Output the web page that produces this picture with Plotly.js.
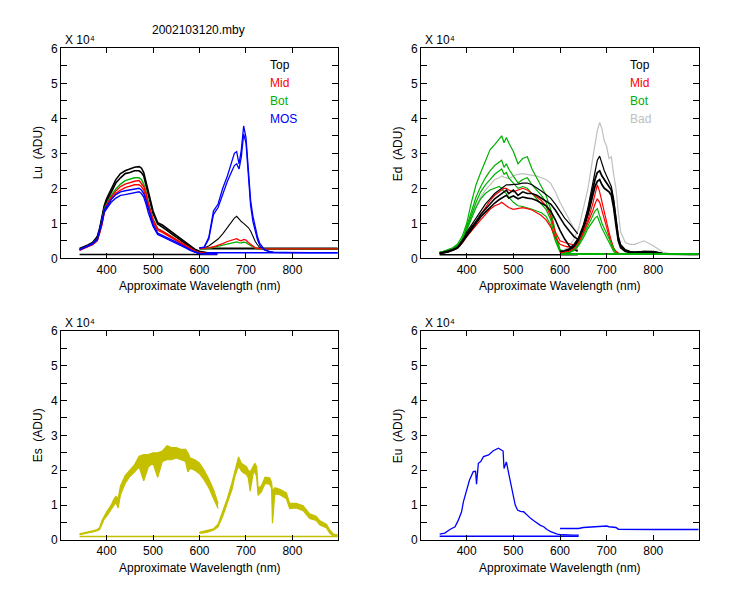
<!DOCTYPE html>
<html>
<head>
<meta charset="utf-8">
<script src="https://cdn.plot.ly/plotly-3.0.1.min.js"></script>
<style>html,body{margin:0;padding:0;background:#fff}#plot{width:750px;height:600px}</style>
</head>
<body>
<div id="plot"></div>
<script>
// ---------- wavelength grids (nm) ----------
const WL_A = [342,350,360,370,380,385,390,395,400,410,420,430,440,450,460,470,475,480,485,490,500,510,520,530,540,550,560,570,580,590,600,610,620,630,638];
const WL_B = [600,610,620,630,640,650,660,670,675,680,685,690,695,700,705,710,715,720,725,730,740,750,760,780,800,820,840,860,880,897];

// ---------- Lu (x10^4 ADU) ----------
const LU_TOP1_A = [0.28,0.32,0.38,0.45,0.62,0.85,1.15,1.5,1.7,2.0,2.25,2.42,2.5,2.55,2.6,2.62,2.58,2.45,2.2,1.9,1.35,1.02,0.95,0.85,0.75,0.64,0.54,0.44,0.35,0.26,0.2,0.17,0.15,0.14,0.14];
const LU_TOP2_A = [0.26,0.3,0.36,0.44,0.58,0.8,1.1,1.45,1.62,1.9,2.15,2.3,2.42,2.45,2.5,2.5,2.45,2.35,2.1,1.8,1.28,0.98,0.9,0.8,0.7,0.6,0.5,0.41,0.32,0.24,0.18,0.16,0.14,0.13,0.13];
const LU_BOT_A  = [0.25,0.29,0.34,0.42,0.55,0.75,1.05,1.4,1.55,1.8,1.98,2.12,2.22,2.25,2.3,2.3,2.25,2.12,1.9,1.6,1.12,0.85,0.78,0.7,0.62,0.53,0.44,0.36,0.28,0.2,0.15,0.13,0.12,0.12,0.12];
const LU_MID1_A = [0.24,0.28,0.33,0.4,0.52,0.72,1.0,1.35,1.52,1.75,1.92,2.05,2.12,2.17,2.2,2.22,2.15,2.05,1.85,1.55,1.1,0.84,0.78,0.7,0.62,0.54,0.45,0.37,0.29,0.21,0.16,0.14,0.13,0.12,0.12];
const LU_MID2_A = [0.23,0.27,0.32,0.39,0.5,0.7,0.95,1.3,1.45,1.7,1.85,1.95,2.02,2.05,2.1,2.1,2.05,1.95,1.75,1.5,1.05,0.8,0.74,0.66,0.58,0.5,0.42,0.34,0.26,0.19,0.15,0.13,0.12,0.12,0.12];
const LU_MOS1_A = [0.25,0.3,0.35,0.42,0.55,0.78,1.05,1.38,1.48,1.68,1.82,1.9,1.93,1.95,1.98,2.0,1.95,1.85,1.65,1.4,0.98,0.72,0.66,0.6,0.53,0.46,0.39,0.32,0.25,0.18,0.14,0.13,0.12,0.12,0.12];
const LU_MOS2_A = [0.24,0.29,0.34,0.41,0.53,0.75,1.0,1.32,1.42,1.6,1.72,1.8,1.82,1.85,1.88,1.9,1.85,1.75,1.55,1.3,0.92,0.68,0.62,0.56,0.5,0.43,0.36,0.3,0.23,0.17,0.13,0.12,0.12,0.12,0.12];
const LU_MOS1_B = [0.3,0.32,0.6,1.35,1.55,2.0,2.35,2.75,3.0,3.05,2.7,3.1,3.78,3.45,2.5,1.65,1.2,0.9,0.6,0.42,0.25,0.2,0.17,0.17,0.16,0.16,0.16,0.16,0.16,0.16];
const LU_MOS2_B = [0.3,0.31,0.55,1.25,1.45,1.85,2.2,2.5,2.65,2.7,2.55,2.9,3.55,3.3,2.35,1.5,1.05,0.8,0.52,0.36,0.23,0.19,0.17,0.16,0.16,0.16,0.16,0.16,0.16,0.16];
const LU_TOP_B  = [0.3,0.3,0.35,0.45,0.55,0.7,0.88,1.05,1.15,1.2,1.12,1.05,1.0,0.95,0.88,0.78,0.62,0.48,0.38,0.3,0.27,0.27,0.27,0.27,0.27,0.27,0.27,0.27,0.27,0.27];
const LU_MID_B  = [0.28,0.28,0.3,0.33,0.37,0.42,0.48,0.53,0.55,0.56,0.52,0.5,0.54,0.52,0.45,0.4,0.35,0.3,0.28,0.27,0.27,0.27,0.27,0.27,0.27,0.27,0.27,0.27,0.27,0.27];
const LU_BOT_B  = [0.27,0.27,0.28,0.31,0.34,0.38,0.42,0.45,0.46,0.47,0.45,0.44,0.46,0.45,0.4,0.36,0.32,0.29,0.27,0.27,0.27,0.27,0.27,0.27,0.27,0.27,0.27,0.27,0.27,0.27];
const LU_BASE_A_X = [342,638], LU_BASE_A_Y = [0.11,0.11];
const LU_BASE_B_X = [600,897], LU_BASE_B_Y = [0.28,0.28];
const LU_MOSBASE_X = [615,897], LU_MOSBASE_Y = [0.16,0.16];

// ---------- Ed ----------
const ED_BOT1_A = [0.18,0.2,0.25,0.3,0.4,0.5,0.62,0.8,1.0,1.6,2.1,2.45,2.75,3.1,3.25,3.4,3.5,3.3,3.45,3.3,3.05,2.7,2.85,2.9,2.55,2.3,2.05,1.8,1.4,0.75,0.25,0.15,0.12,0.12,0.12];
const ED_BOT2_A = [0.17,0.19,0.23,0.28,0.37,0.45,0.55,0.7,0.9,1.35,1.75,2.05,2.3,2.5,2.65,2.75,2.8,2.6,2.7,2.55,2.35,2.15,2.25,2.3,2.1,1.95,1.8,1.6,1.25,0.65,0.22,0.14,0.12,0.12,0.12];
const ED_BOT3_A = [0.16,0.18,0.22,0.27,0.35,0.42,0.52,0.65,0.85,1.25,1.6,1.9,2.1,2.25,2.4,2.5,2.55,2.4,2.45,2.3,2.15,2.0,2.05,2.0,1.85,1.7,1.55,1.4,1.1,0.55,0.2,0.13,0.12,0.12,0.12];
const ED_BOT4_A = [0.16,0.18,0.21,0.26,0.33,0.4,0.5,0.62,0.8,1.15,1.45,1.7,1.85,1.95,2.0,2.05,2.0,1.9,1.85,1.75,1.6,1.5,1.48,1.45,1.4,1.35,1.3,1.2,0.95,0.5,0.18,0.13,0.12,0.12,0.12];
const ED_BAD_A  = [0.17,0.19,0.22,0.27,0.34,0.42,0.52,0.68,0.85,1.2,1.5,1.75,1.95,2.1,2.25,2.3,2.35,2.32,2.3,2.28,2.35,2.4,2.42,2.4,2.38,2.35,2.3,2.25,2.14,1.9,1.6,1.35,1.1,0.85,0.7];
const ED_TOP1_A = [0.14,0.17,0.2,0.25,0.32,0.4,0.5,0.6,0.75,0.95,1.15,1.35,1.55,1.7,1.85,1.95,2.0,2.05,2.1,2.1,2.1,2.12,2.15,2.15,2.1,2.02,1.92,1.82,1.72,1.55,1.35,1.15,1.0,0.82,0.7];
const ED_TOP2_A = [0.14,0.16,0.19,0.24,0.3,0.38,0.48,0.58,0.7,0.88,1.05,1.25,1.4,1.55,1.7,1.8,1.85,1.9,1.95,1.85,1.95,1.8,1.9,1.85,1.85,1.8,1.72,1.65,1.55,1.38,1.15,0.95,0.78,0.62,0.55];
const ED_TOP3_A = [0.13,0.15,0.18,0.23,0.29,0.36,0.45,0.55,0.65,0.82,1.0,1.18,1.32,1.45,1.58,1.68,1.72,1.75,1.8,1.72,1.78,1.7,1.75,1.72,1.7,1.65,1.58,1.5,1.35,1.1,0.8,0.55,0.35,0.25,0.2];
const ED_MID1_A = [0.15,0.17,0.2,0.25,0.31,0.38,0.48,0.58,0.7,0.88,1.05,1.25,1.45,1.65,1.8,1.9,1.95,2.0,2.0,1.95,1.9,1.95,2.0,1.95,1.85,1.75,1.65,1.5,1.2,0.75,0.5,0.45,0.42,0.38,0.3];
const ED_MID2_A = [0.14,0.16,0.19,0.23,0.29,0.35,0.43,0.52,0.62,0.78,0.95,1.1,1.25,1.4,1.5,1.55,1.6,1.55,1.5,1.45,1.4,1.42,1.45,1.42,1.38,1.3,1.22,1.1,0.9,0.6,0.4,0.35,0.32,0.3,0.25];
const ED_BAD_B  = [0.2,0.25,0.35,0.55,0.85,1.4,2.0,2.85,3.3,3.65,3.88,3.7,3.35,3.2,2.85,2.9,2.4,2.0,1.3,0.75,0.45,0.4,0.4,0.5,0.36,0.18,0.12,0.1,0.1,0.1];
const ED_TOP1_B = [0.2,0.22,0.28,0.4,0.6,0.95,1.45,2.1,2.5,2.8,2.92,2.7,2.5,2.35,2.2,2.05,1.7,1.15,0.65,0.4,0.25,0.2,0.18,0.2,0.2,0.14,0.12,0.12,0.12,0.12];
const ED_TOP2_B = [0.18,0.2,0.25,0.35,0.55,0.88,1.35,1.95,2.25,2.45,2.5,2.35,2.25,2.15,2.05,1.95,1.6,1.05,0.55,0.35,0.22,0.18,0.17,0.19,0.18,0.13,0.12,0.12,0.12,0.12];
const ED_TOP3_B = [0.17,0.19,0.24,0.33,0.5,0.82,1.25,1.8,2.05,2.2,2.25,2.1,2.0,1.95,1.9,1.8,1.45,0.95,0.5,0.3,0.2,0.17,0.16,0.18,0.17,0.12,0.11,0.11,0.11,0.11];
const ED_MID1_B = [0.15,0.17,0.2,0.28,0.45,0.75,1.1,1.55,1.85,2.1,1.9,1.6,1.3,1.0,0.75,0.5,0.3,0.2,0.15,0.13,0.12,0.12,0.12,0.12,0.12,0.12,0.12,0.12,0.12,0.12];
const ED_MID2_B = [0.14,0.16,0.19,0.26,0.42,0.7,1.0,1.35,1.55,1.7,1.6,1.35,1.1,0.85,0.6,0.4,0.25,0.17,0.13,0.12,0.12,0.12,0.12,0.12,0.12,0.12,0.12,0.12,0.12,0.12];
const ED_BOT1_B = [0.12,0.14,0.17,0.24,0.4,0.65,0.95,1.2,1.35,1.42,1.2,1.0,0.85,0.7,0.55,0.4,0.25,0.15,0.12,0.11,0.11,0.11,0.11,0.11,0.11,0.11,0.11,0.11,0.11,0.11];
const ED_BOT2_B = [0.12,0.13,0.16,0.22,0.36,0.58,0.85,1.05,1.15,1.2,1.0,0.85,0.72,0.6,0.45,0.32,0.2,0.13,0.11,0.11,0.11,0.11,0.11,0.11,0.11,0.11,0.11,0.11,0.11,0.11];
const ED_BASE_A_X = [342,638], ED_BASE_A_Y = [0.1,0.1];
const ED_BASE_B_X = [600,897], ED_BASE_B_Y = [0.12,0.12];

// ---------- Es (upper and lower edge of the noisy band) ----------
const ES_WL_A = [342,350,360,370,380,385,390,395,400,405,410,415,420,425,430,440,450,460,470,480,490,500,510,520,530,540,550,560,570,575,580,590,600,610,620,630,640];
const ES_HI_A = [0.18,0.2,0.23,0.26,0.3,0.35,0.55,0.7,0.8,0.9,1.0,1.15,1.25,1.2,1.55,1.85,2.0,2.15,2.4,2.45,2.45,2.5,2.5,2.55,2.7,2.65,2.65,2.6,2.6,2.5,2.35,2.3,2.2,2.0,1.75,1.45,1.05];
const ES_LO_A = [0.15,0.17,0.2,0.23,0.27,0.3,0.45,0.6,0.68,0.78,0.88,1.0,1.08,0.92,1.3,1.62,1.82,1.95,2.1,1.7,2.1,2.2,1.8,2.25,2.3,2.3,2.35,2.3,2.25,1.95,2.05,2.0,1.9,1.72,1.5,1.2,0.9];
const ES_WL_B = [600,615,630,640,650,660,670,676,684,690,695,701,705,709,715,719,723,726,733,741,751,755,757,762,773,787,794,808,823,837,851,859,873,880,888,897];
const ES_HI_B = [0.22,0.26,0.32,0.45,0.8,1.2,1.65,2.0,2.38,2.2,2.15,2.1,2.0,1.95,2.1,2.2,2.1,1.5,1.55,1.8,1.78,1.65,1.4,1.5,1.45,1.35,1.05,1.05,0.98,0.75,0.68,0.55,0.45,0.3,0.17,0.15];
const ES_LO_B = [0.19,0.22,0.28,0.38,0.68,1.05,1.45,1.82,2.12,1.98,1.92,1.88,1.78,1.4,1.88,1.98,1.8,1.28,1.38,1.62,1.6,1.48,0.48,1.32,1.3,1.18,0.9,0.92,0.84,0.62,0.56,0.43,0.35,0.2,0.12,0.12];
const ES_BASE_X = [342,897], ES_BASE_Y = [0.1,0.1];

// ---------- Eu ----------
const EU_WL_A = [342,353,364,375,382,389,393,396,400,406,414,419,421,423,425,430,436,447,457,468,475,478,480,485,490,497,504,509,515,522,530,537,544,551,558,565,572,580,587,594,605,616,628,640];
const EU_A = [0.17,0.2,0.3,0.38,0.57,0.81,1.1,1.24,1.38,1.72,1.96,1.97,1.6,2.05,2.2,2.25,2.39,2.44,2.56,2.63,2.58,2.55,2.05,2.24,1.91,1.48,1.0,0.86,0.82,0.81,0.7,0.62,0.55,0.48,0.42,0.38,0.3,0.24,0.2,0.17,0.15,0.14,0.14,0.14];
const EU_WL_B = [600,620,640,650,660,680,695,700,705,720,725,760,800,850,897];
const EU_B = [0.33,0.32,0.33,0.36,0.37,0.37,0.39,0.4,0.38,0.36,0.31,0.3,0.3,0.3,0.3];
const EU_BASE_X = [342,640], EU_BASE_Y = [0.11,0.11];

// ---------- text ----------
const TITLE = '2002103120.mby';
const XLABEL = 'Approximate Wavelength (nm)';
const YLABELS = ['Lu  (ADU)', 'Ed  (ADU)', 'Es  (ADU)', 'Eu  (ADU)'];
const SCALE_LABEL = 'X 10\u2074';
const LEG_LU = ['Top','Mid','Bot','MOS'];
const LEG_ED = ['Top','Mid','Bot','Bad'];
const X_TICKS = [400,500,600,700,800];

const C = {top:'#000000', mid:'#ff0000', bot:'#00b000', mos:'#0000ff', bad:'#c0c0c0', es:'#c4c000'};

function tr(x, y, color, ax, w, fill) {
  const s = ax > 1 ? String(ax) : '';
  const t = {x:x, y:y, type:'scatter', mode:'lines', line:{color:color, width:w||1.2},
          xaxis:'x'+s, yaxis:'y'+s, hoverinfo:'skip', showlegend:false};
  if (fill) { t.fill = 'tonexty'; t.fillcolor = color; }
  return t;
}

const data = [
  // Lu
  tr(LU_BASE_A_X, LU_BASE_A_Y, C.top, 1, 1.5),
  tr(WL_A, LU_TOP1_A, C.top, 1, 1.6),
  tr(WL_A, LU_TOP2_A, C.top, 1, 1.6),
  tr(WL_A, LU_BOT_A, C.bot, 1, 1.4),
  tr(WL_A, LU_MID1_A, C.mid, 1, 1.4),
  tr(WL_A, LU_MID2_A, C.mid, 1, 1.4),
  tr(WL_A, LU_MOS1_A, C.mos, 1, 1.4),
  tr(WL_A, LU_MOS2_A, C.mos, 1, 1.4),
  tr(LU_BASE_B_X, LU_BASE_B_Y, C.top, 1, 2.2),
  tr(LU_MOSBASE_X, LU_MOSBASE_Y, C.mos, 1, 1.4),
  tr(WL_B, LU_TOP_B, C.top, 1, 1.1),
  tr(WL_B, LU_BOT_B, C.bot, 1, 1.3),
  tr(WL_B, LU_MID_B, C.mid, 1, 1.3),
  tr(WL_B, LU_MOS1_B, C.mos, 1, 1.3),
  tr(WL_B, LU_MOS2_B, C.mos, 1, 1.3),
  // Ed
  tr(ED_BASE_A_X, ED_BASE_A_Y, C.top, 2, 1.5),
  tr(WL_A, ED_BAD_A, C.bad, 2, 1.2),
  tr(WL_B, ED_BAD_B, C.bad, 2, 1.2),
  tr(WL_A, ED_BOT1_A, C.bot, 2, 1.2),
  tr(WL_A, ED_BOT2_A, C.bot, 2, 1.2),
  tr(WL_A, ED_BOT3_A, C.bot, 2, 1.2),
  tr(WL_A, ED_BOT4_A, C.bot, 2, 1.2),
  tr(WL_A, ED_MID1_A, C.mid, 2, 1.2),
  tr(WL_A, ED_MID2_A, C.mid, 2, 1.2),
  tr(WL_A, ED_TOP1_A, C.top, 2, 1.2),
  tr(WL_A, ED_TOP2_A, C.top, 2, 1.6),
  tr(WL_A, ED_TOP3_A, C.top, 2, 1.6),
  tr(WL_B, ED_TOP1_B, C.top, 2, 1.2),
  tr(WL_B, ED_TOP2_B, C.top, 2, 1.8),
  tr(WL_B, ED_TOP3_B, C.top, 2, 1.8),
  tr(WL_B, ED_MID1_B, C.mid, 2, 1.2),
  tr(WL_B, ED_MID2_B, C.mid, 2, 1.2),
  tr(WL_B, ED_BOT1_B, C.bot, 2, 1.2),
  tr(WL_B, ED_BOT2_B, C.bot, 2, 1.2),
  tr(ED_BASE_B_X, ED_BASE_B_Y, C.bot, 2, 2),
  // Es
  tr(ES_BASE_X, ES_BASE_Y, C.es, 3, 1.5),
  tr(ES_WL_A, ES_LO_A, C.es, 3, 1.2),
  tr(ES_WL_A, ES_HI_A, C.es, 3, 1.2, true),
  tr(ES_WL_B, ES_LO_B, C.es, 3, 1.2),
  tr(ES_WL_B, ES_HI_B, C.es, 3, 1.2, true),
  // Eu
  tr(EU_BASE_X, EU_BASE_Y, C.mos, 4, 1.5),
  tr(EU_WL_A, EU_A, C.mos, 4, 1.3),
  tr(EU_WL_B, EU_B, C.mos, 4, 1.5)
];

const W = 750, H = 600;
const font = {family:'"Liberation Sans", Arial, sans-serif', size:12, color:'#000'};
const px = v => v / W, py = v => 1 - v / H;

const XD = [[61,338],[421,699],[61,338],[421,699]];
const YD = [[48.3,258.3],[48.3,258.3],[330.7,540],[330.7,540]];

function xAxis(i) {
  return {domain:[px(XD[i][0]), px(XD[i][1])], anchor:'y'+(i?i+1:''), range:[302,898],
    tickmode:'array', tickvals:X_TICKS, ticks:'inside', ticklen:5, tickcolor:'#000',
    showline:true, linecolor:'#000', linewidth:1, mirror:'ticks', showgrid:false, zeroline:false,
    tickfont:font, fixedrange:true};
}
function yAxis(i) {
  return {domain:[py(YD[i][1]), py(YD[i][0])], anchor:'x'+(i?i+1:''), range:[0,6],
    dtick:1, tick0:0, ticks:'inside', ticklen:6, tickcolor:'#000',
    minor:{dtick:0.5, ticks:'inside', ticklen:6, tickcolor:'#000', showgrid:false},
    showline:true, linecolor:'#000', linewidth:1, mirror:'ticks', showgrid:false, zeroline:false,
    tickfont:font, fixedrange:true};
}

const ann = [];
function text(t, x, y, opts) {
  ann.push(Object.assign({text:t, x:px(x), y:py(y), xref:'paper', yref:'paper', showarrow:false,
    font:font, xanchor:'center', yanchor:'middle'}, opts||{}));
}
text(TITLE, 198.5, 30);
for (let i = 0; i < 4; i++) {
  const cx = (XD[i][0] + XD[i][1]) / 2;
  text(XLABEL, cx, YD[i][1] + 27.5);
  text(YLABELS[i], i % 2 ? 398 : 38, (YD[i][0] + YD[i][1]) / 2, {textangle:-90});
  text(SCALE_LABEL, XD[i][0] + 2, YD[i][0] - 8, {xanchor:'left'});
}
const legCols = [C.top, C.mid, C.bot, C.mos];
const legColsEd = [C.top, C.mid, C.bot, C.bad];
const legY = [65.5, 83.3, 100.8, 118.5];
for (let k = 0; k < 4; k++) {
  text(LEG_LU[k], 268, legY[k], {xanchor:'left', font:Object.assign({}, font, {color:legCols[k]})});
  text(LEG_ED[k], 628, legY[k], {xanchor:'left', font:Object.assign({}, font, {color:legColsEd[k]})});
}

const layout = {
  width:W, height:H, margin:{l:0, r:0, t:0, b:0}, paper_bgcolor:'#fff', plot_bgcolor:'#fff',
  font:font, showlegend:false, annotations:ann,
  xaxis:xAxis(0), yaxis:yAxis(0), xaxis2:xAxis(1), yaxis2:yAxis(1),
  xaxis3:xAxis(2), yaxis3:yAxis(2), xaxis4:xAxis(3), yaxis4:yAxis(3)
};

Plotly.newPlot('plot', data, layout, {displayModeBar:false, staticPlot:true});
</script>
</body>
</html>
